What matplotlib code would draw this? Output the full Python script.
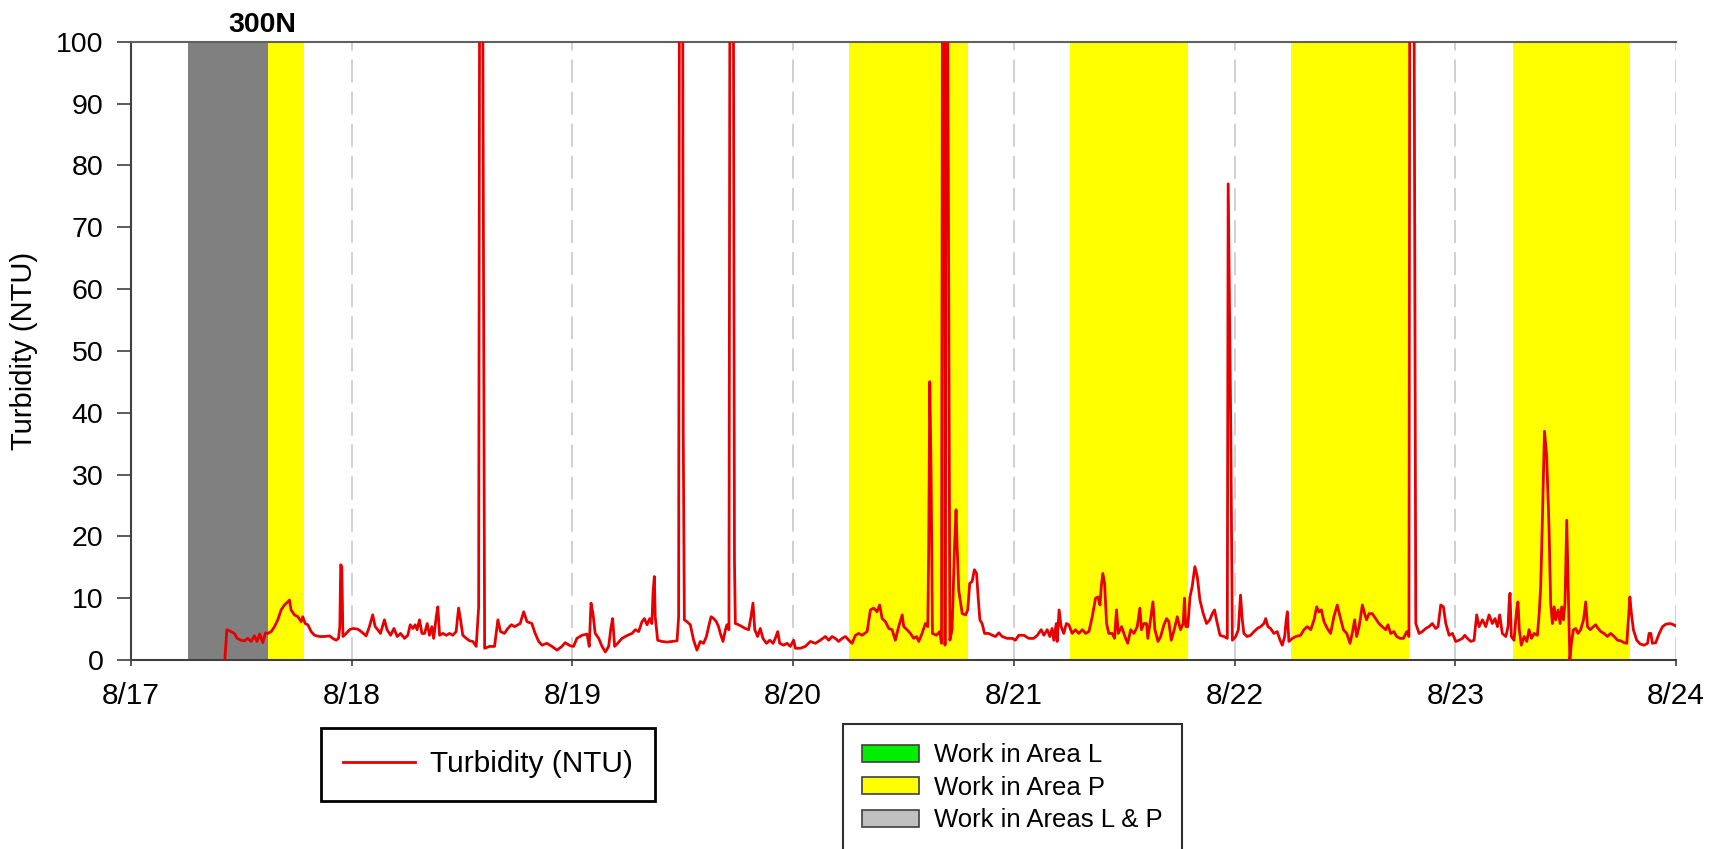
import pandas as pd
import matplotlib
matplotlib.use('Agg')
import matplotlib.pyplot as plt
import matplotlib.dates as mdates
from matplotlib.patches import Patch

plt.rcParams['font.family'] = ['Liberation Sans', 'DejaVu Sans']

START = pd.Timestamp('2019-08-17 00:00')

# readings: days since 8/17 00:00 and turbidity in NTU (150 = off scale)
days = [
    0.425, 0.434, 0.453, 0.468, 0.481, 0.499, 0.514, 0.529, 0.544, 0.559, 0.571, 0.583, 0.597, 0.609,
    0.620, 0.635, 0.650, 0.665, 0.680, 0.695, 0.707, 0.718, 0.725, 0.740, 0.756, 0.771, 0.778, 0.789,
    0.801, 0.816, 0.831, 0.854, 0.876, 0.899, 0.914, 0.929, 0.940, 0.946, 0.950, 0.955, 0.960, 0.975,
    0.990, 1.005, 1.027, 1.043, 1.065, 1.080, 1.095, 1.106, 1.118, 1.130, 1.148, 1.160, 1.176, 1.191,
    1.206, 1.221, 1.239, 1.254, 1.265, 1.277, 1.287, 1.296, 1.307, 1.318, 1.330, 1.342, 1.352, 1.363,
    1.371, 1.383, 1.390, 1.398, 1.413, 1.428, 1.443, 1.458, 1.473, 1.484, 1.493, 1.503, 1.519, 1.534,
    1.549, 1.564, 1.575, 1.581, 1.590, 1.596, 1.602, 1.624, 1.647, 1.662, 1.674, 1.692, 1.707, 1.723,
    1.738, 1.763, 1.779, 1.794, 1.816, 1.831, 1.847, 1.862, 1.884, 1.907, 1.930, 1.952, 1.967, 1.990,
    2.005, 2.020, 2.043, 2.066, 2.076, 2.084, 2.093, 2.103, 2.119, 2.134, 2.149, 2.164, 2.174, 2.182,
    2.191, 2.205, 2.224, 2.239, 2.250, 2.270, 2.285, 2.300, 2.315, 2.326, 2.338, 2.350, 2.360, 2.365,
    2.371, 2.375, 2.386, 2.406, 2.428, 2.451, 2.474, 2.481, 2.486, 2.498, 2.502, 2.507, 2.519, 2.534,
    2.549, 2.564, 2.579, 2.594, 2.607, 2.617, 2.628, 2.640, 2.652, 2.662, 2.670, 2.682, 2.693, 2.700,
    2.709, 2.715, 2.727, 2.734, 2.738, 2.753, 2.768, 2.783, 2.798, 2.809, 2.818, 2.826, 2.839, 2.851,
    2.863, 2.879, 2.894, 2.909, 2.919, 2.930, 2.939, 2.957, 2.972, 2.987, 3.002, 3.010, 3.033, 3.055,
    3.078, 3.101, 3.123, 3.146, 3.161, 3.176, 3.191, 3.206, 3.222, 3.237, 3.252, 3.267, 3.282, 3.297,
    3.312, 3.335, 3.350, 3.365, 3.380, 3.392, 3.403, 3.418, 3.433, 3.448, 3.463, 3.478, 3.494, 3.501,
    3.516, 3.531, 3.546, 3.559, 3.569, 3.584, 3.599, 3.610, 3.614, 3.619, 3.625, 3.631, 3.649, 3.664,
    3.672, 3.678, 3.685, 3.688, 3.695, 3.704, 3.710, 3.720, 3.731, 3.738, 3.743, 3.750, 3.766, 3.781,
    3.791, 3.800, 3.811, 3.821, 3.831, 3.838, 3.846, 3.856, 3.867, 3.886, 3.902, 3.917, 3.932, 3.947,
    3.969, 3.992, 4.007, 4.022, 4.045, 4.068, 4.090, 4.106, 4.124, 4.136, 4.151, 4.163, 4.173, 4.181,
    4.192, 4.196, 4.205, 4.214, 4.226, 4.238, 4.249, 4.264, 4.279, 4.294, 4.310, 4.325, 4.340, 4.355,
    4.370, 4.381, 4.390, 4.396, 4.403, 4.411, 4.420, 4.430, 4.445, 4.456, 4.465, 4.473, 4.488, 4.503,
    4.516, 4.529, 4.544, 4.559, 4.571, 4.578, 4.589, 4.601, 4.607, 4.619, 4.630, 4.639, 4.653, 4.665,
    4.680, 4.692, 4.702, 4.713, 4.728, 4.740, 4.755, 4.767, 4.773, 4.779, 4.788, 4.798, 4.808, 4.820,
    4.831, 4.843, 4.858, 4.873, 4.888, 4.899, 4.909, 4.918, 4.934, 4.952, 4.967, 4.971, 4.982, 4.990,
    5.005, 5.017, 5.027, 5.035, 5.042, 5.057, 5.073, 5.088, 5.103, 5.118, 5.133, 5.141, 5.151, 5.163,
    5.178, 5.193, 5.206, 5.216, 5.227, 5.234, 5.239, 5.246, 5.262, 5.277, 5.299, 5.314, 5.329, 5.345,
    5.360, 5.372, 5.382, 5.393, 5.405, 5.420, 5.435, 5.450, 5.465, 5.478, 5.493, 5.508, 5.523, 5.533,
    5.544, 5.553, 5.564, 5.571, 5.579, 5.589, 5.598, 5.609, 5.624, 5.639, 5.654, 5.669, 5.685, 5.695,
    5.707, 5.722, 5.734, 5.750, 5.765, 5.780, 5.790, 5.795, 5.810, 5.821, 5.836, 5.851, 5.866, 5.881,
    5.896, 5.911, 5.922, 5.934, 5.946, 5.957, 5.972, 5.987, 6.002, 6.017, 6.032, 6.043, 6.055, 6.070,
    6.085, 6.097, 6.108, 6.123, 6.138, 6.153, 6.168, 6.180, 6.191, 6.201, 6.213, 6.229, 6.239, 6.244,
    6.248, 6.254, 6.266, 6.278, 6.284, 6.290, 6.299, 6.312, 6.324, 6.334, 6.345, 6.357, 6.372, 6.380,
    6.387, 6.395, 6.404, 6.414, 6.425, 6.432, 6.440, 6.448, 6.455, 6.466, 6.475, 6.482, 6.490, 6.497,
    6.505, 6.513, 6.519, 6.526, 6.535, 6.546, 6.556, 6.568, 6.581, 6.591, 6.599, 6.611, 6.626, 6.636,
    6.647, 6.659, 6.674, 6.689, 6.704, 6.720, 6.735, 6.750, 6.765, 6.777, 6.783, 6.791, 6.798, 6.807,
    6.822, 6.837, 6.856, 6.871, 6.878, 6.886, 6.893, 6.908, 6.924, 6.939, 6.954, 6.974, 6.989, 6.999,
]
ntu = [
    0.0, 4.9, 4.6, 4.3, 3.5, 3.2, 3.1, 3.5, 3.0, 3.9, 3.0, 4.2, 2.8, 4.4,
    4.3, 4.6, 5.4, 6.5, 8.1, 8.9, 9.3, 9.7, 8.1, 7.3, 7.0, 6.2, 7.0, 5.9,
    5.7, 4.6, 4.0, 3.8, 3.8, 3.9, 3.5, 3.2, 3.5, 5.4, 15.4, 15.1, 3.8, 4.3,
    4.9, 5.1, 5.0, 4.6, 3.9, 5.4, 7.3, 5.4, 4.9, 4.3, 6.5, 4.9, 4.0, 5.1,
    3.8, 4.3, 3.5, 4.0, 5.7, 5.1, 5.7, 4.9, 6.5, 4.3, 4.3, 5.9, 4.0, 5.4,
    3.5, 7.0, 8.6, 4.0, 4.3, 4.0, 4.3, 4.0, 4.6, 8.4, 6.5, 4.0, 3.5, 3.1,
    3.0, 2.2, 8.6, 150, 150, 75, 1.9, 2.2, 2.2, 6.5, 4.6, 4.3, 5.1, 5.7,
    5.4, 5.9, 7.8, 6.2, 5.9, 4.3, 3.0, 2.4, 2.7, 2.2, 1.6, 2.2, 2.8, 2.3,
    2.2, 3.5, 4.0, 4.2, 2.2, 9.2, 7.5, 4.3, 3.5, 2.2, 1.3, 2.2, 5.1, 6.7,
    2.2, 2.7, 3.5, 3.8, 4.0, 4.3, 4.9, 4.6, 6.2, 6.7, 5.7, 6.7, 5.9, 10.8,
    13.5, 7.0, 3.2, 3.0, 2.9, 3.0, 3.1, 7.0, 150, 150, 37, 6.5, 6.2, 5.7,
    3.2, 1.6, 3.0, 2.7, 3.8, 5.4, 7.0, 6.7, 6.2, 5.4, 4.3, 3.0, 4.9, 5.7,
    4.9, 150, 150, 16.2, 5.9, 5.7, 5.4, 5.1, 4.9, 7.0, 9.2, 4.9, 3.8, 5.1,
    3.5, 2.7, 3.2, 2.7, 3.5, 4.6, 2.7, 2.4, 2.7, 2.2, 3.2, 1.9, 1.9, 2.2,
    3.0, 2.7, 3.2, 3.8, 3.2, 3.8, 3.5, 3.0, 3.5, 3.8, 3.2, 2.7, 4.0, 4.3,
    4.0, 4.6, 8.1, 8.4, 7.8, 8.9, 6.7, 6.2, 5.1, 4.9, 3.2, 5.4, 7.3, 5.4,
    4.9, 4.3, 3.5, 3.8, 3.0, 4.3, 5.9, 5.4, 17.8, 45, 30, 4.3, 4.0, 4.6,
    2.7, 150, 150, 2.4, 150, 68, 3.2, 4.9, 18.3, 24.3, 18.3, 11.3, 7.5, 7.3,
    8.1, 12.4, 12.7, 14.6, 14.0, 10.2, 6.5, 5.9, 4.3, 4.3, 4.0, 3.8, 4.4, 3.8,
    3.5, 3.5, 3.2, 4.0, 4.0, 3.5, 3.5, 4.0, 4.9, 4.0, 4.9, 3.8, 5.1, 3.2,
    5.9, 3.0, 8.1, 5.4, 4.3, 5.9, 5.7, 4.3, 4.9, 4.3, 4.9, 4.3, 4.6, 7.0,
    10.0, 10.2, 8.9, 11.9, 14.0, 12.4, 5.9, 4.3, 4.3, 3.5, 8.1, 4.3, 5.4, 3.8,
    2.7, 4.9, 4.3, 5.4, 8.4, 4.9, 5.9, 5.9, 3.5, 6.5, 9.4, 4.9, 3.0, 3.8,
    5.7, 6.7, 6.2, 3.2, 5.1, 7.0, 4.9, 5.9, 10.0, 5.4, 5.4, 10.2, 11.9, 15.1,
    13.5, 9.7, 7.5, 5.9, 6.5, 7.5, 8.1, 6.5, 4.0, 3.8, 3.5, 77, 40, 3.2,
    3.8, 4.9, 10.5, 6.5, 4.3, 3.8, 4.0, 4.6, 5.1, 5.4, 5.9, 6.7, 5.4, 5.1,
    4.3, 4.6, 3.2, 2.4, 3.8, 6.5, 7.8, 3.0, 3.5, 3.8, 4.0, 4.9, 5.4, 4.9,
    6.5, 8.6, 7.8, 8.1, 6.2, 5.1, 4.3, 7.0, 8.9, 7.0, 4.9, 4.3, 2.7, 4.3,
    6.5, 3.8, 5.4, 7.0, 8.9, 7.5, 6.5, 7.5, 7.5, 6.7, 5.9, 5.4, 4.9, 5.7,
    4.3, 4.6, 3.8, 3.5, 3.5, 4.6, 3.8, 150, 150, 5.9, 4.3, 4.6, 5.1, 5.4,
    5.9, 5.1, 5.4, 8.9, 8.6, 5.9, 4.0, 4.3, 3.0, 3.2, 3.5, 4.0, 3.5, 3.0,
    3.2, 7.3, 5.4, 6.5, 5.4, 7.3, 5.9, 6.7, 5.4, 7.3, 4.3, 3.8, 5.4, 9.2,
    10.8, 3.8, 3.2, 8.1, 9.4, 4.9, 2.4, 3.8, 3.0, 4.9, 3.5, 4.3, 4.0, 7.5,
    11.9, 23.2, 37, 33, 21.0, 9.2, 5.9, 8.6, 6.5, 8.1, 5.9, 8.6, 6.5, 9.2,
    22.6, 9.2, 0.0, 2.7, 4.9, 5.1, 4.3, 4.9, 6.5, 9.4, 5.4, 4.9, 5.4, 5.7,
    5.1, 4.6, 4.3, 3.8, 4.3, 3.8, 3.2, 3.1, 2.8, 2.7, 5.9, 10.2, 7.5, 4.9,
    3.2, 2.6, 2.4, 2.7, 4.3, 4.3, 2.7, 2.8, 4.3, 5.4, 5.8, 5.9, 5.7, 5.5,
]

# work windows, days since 8/17 00:00
work_area_l = []
work_area_p = [(0.621, 0.784), (3.255, 3.790), (4.255, 4.790), (5.255, 5.790), (6.260, 6.790)]
work_areas_lp = [(0.257, 0.621)]

legend_labels = ['Work in Area L', 'Work in Area P', 'Work in Areas L & P']
legend_colors = ['#00ee00', '#ffff00', '#c0c0c0']


def to_time(d):
    return START + pd.to_timedelta(d, unit='D')


times = to_time(pd.Series(days))

fig = plt.figure(figsize=(17.13, 8.49), dpi=100)
ax = fig.add_axes([0.0765, 0.2226, 0.9019, 0.7283])

for a, b in work_areas_lp:
    ax.axvspan(to_time(a), to_time(b), color='#808080', lw=0, zorder=1)
for a, b in work_area_p:
    ax.axvspan(to_time(a), to_time(b), color='#ffff00', lw=0, zorder=1)
for a, b in work_area_l:
    ax.axvspan(to_time(a), to_time(b), color='#00ee00', lw=0, zorder=1)

line, = ax.plot(times, ntu, color='#e80000', lw=2.0, zorder=3)

ax.set_xlim(to_time(0), to_time(7))
ax.set_ylim(0, 100)
ax.set_yticks(range(0, 101, 10))
ax.xaxis.set_major_locator(mdates.DayLocator())
ax.xaxis.set_major_formatter(plt.FuncFormatter(
    lambda x, pos: f'{mdates.num2date(x).month}/{mdates.num2date(x).day}'))

ax.set_axisbelow(True)
ax.xaxis.grid(True, color='#c4c4c4', lw=1.1, linestyle=(0, (15, 6)))

for side in ['left', 'bottom']:
    ax.spines[side].set_color('#404040')
    ax.spines[side].set_linewidth(1.5)
ax.spines['top'].set_color('#606060')
ax.spines['top'].set_linewidth(1.5)
ax.spines['right'].set_visible(False)

ax.tick_params(axis='y', direction='out', length=10, width=1.2, color='#404040',
               labelsize=20.5, pad=10)
ax.tick_params(axis='x', direction='out', length=4.5, width=1.2, color='#404040',
               labelsize=21.5, pad=11)

fig.text(24 / 1713, 0.5866, 'Turbidity (NTU)', rotation=90, ha='center', va='center', fontsize=21)
ax.text(0.0848, 1.0157, '300N', transform=ax.transAxes, ha='center', va='baseline',
        fontsize=20.5, fontweight='bold')

leg1 = fig.legend([line], ['Turbidity (NTU)'], loc='upper left',
                  bbox_to_anchor=(321 / 1713, 1 - 728 / 849), borderaxespad=0,
                  fontsize=21.5, fancybox=False, edgecolor='black', framealpha=1,
                  borderpad=0.75, handlelength=2.4, handletextpad=0.5)
leg1.get_frame().set_linewidth(2)

patches = [Patch(facecolor=c, edgecolor='#404040', lw=1.2) for c in legend_colors]
leg2 = fig.legend(patches, legend_labels, loc='upper left',
                  bbox_to_anchor=(843 / 1713, 1 - 724 / 849), borderaxespad=0,
                  fontsize=18.5, fancybox=False, edgecolor='#303030', framealpha=1,
                  borderpad=0.75, handlelength=2.2, handleheight=0.65,
                  labelspacing=0.33, handletextpad=0.6)
leg2.get_frame().set_linewidth(1.5)

fig.savefig('out.png', dpi=100)
